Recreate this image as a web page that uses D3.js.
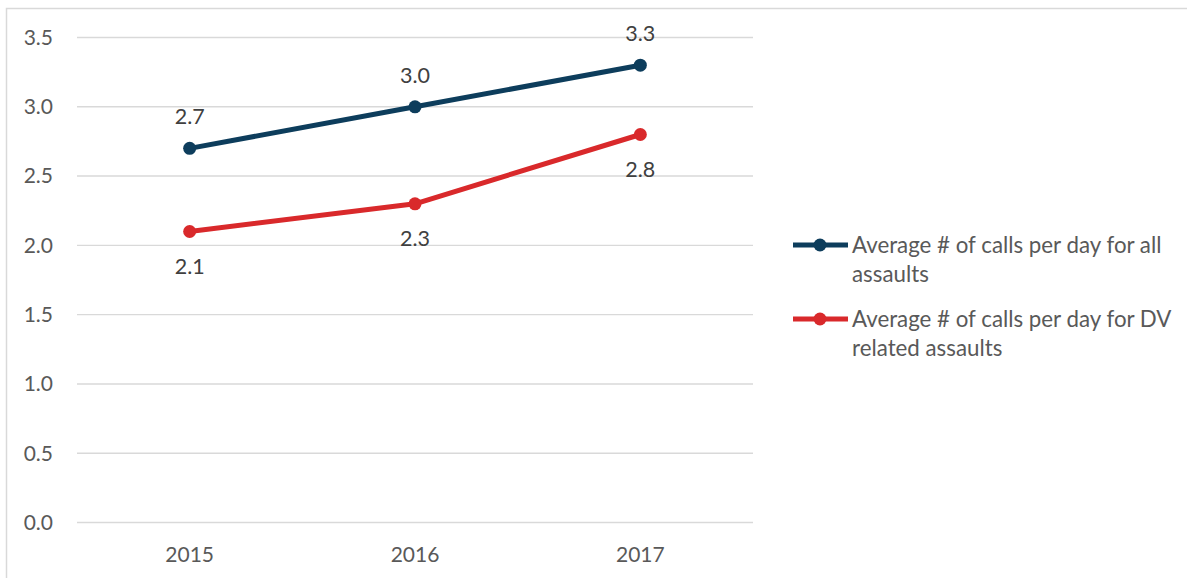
<!DOCTYPE html>
<html>
<head>
<meta charset="utf-8">
<script src="https://cdn.jsdelivr.net/npm/d3@7"></script>
<style>
  html, body { margin: 0; padding: 0; background: #ffffff; }
  svg { display: block; }
</style>
</head>
<body>
<svg id="chart" width="1187" height="578"></svg>
<script>
// Chart data
const years = ["2015", "2016", "2017"];
const allAssaults = [2.7, 3.0, 3.3];
const dvAssaults = [2.1, 2.3, 2.8];
const yTicks = [0, 0.5, 1.0, 1.5, 2.0, 2.5, 3.0, 3.5];
const seriesNames = [
  ["Average # of calls per day for all", "assaults"],
  ["Average # of calls per day for DV", "related assaults"]
];
const seriesColors = ["#0D3D5C", "#D9292B"];

const FONT = "Lato, 'Open Sans', sans-serif";
const TEXT = "#595959";

const svg = d3.select("#chart");

// Outer chart frame
svg.append("rect")
  .attr("x", 6.5).attr("y", 8.5)
  .attr("width", 1200).attr("height", 600)
  .attr("fill", "none").attr("stroke", "#D9D9D9").attr("stroke-width", 1.5);

const plot = { left: 77, right: 753, top: 37.5, bottom: 522.5 };

const x = d3.scalePoint().domain(years).range([plot.left, plot.right]).padding(0.5);
const y = d3.scaleLinear().domain([0, 3.5]).range([plot.bottom, plot.top]);

// Horizontal gridlines
svg.append("g").selectAll("line").data(yTicks).join("line")
  .attr("x1", plot.left).attr("x2", plot.right)
  .attr("y1", d => y(d)).attr("y2", d => y(d))
  .attr("stroke", "#D9D9D9").attr("stroke-width", 1.4);

// Y axis labels
svg.append("g").selectAll("text").data(yTicks).join("text")
  .attr("x", 53).attr("y", d => y(d))
  .attr("dy", "0.35em")
  .attr("text-anchor", "end")
  .attr("font-family", FONT).attr("font-size", 21).attr("fill", TEXT)
  .text(d => d3.format(".1f")(d));

// X axis labels
svg.append("g").selectAll("text").data(years).join("text")
  .attr("x", d => x(d)).attr("y", 562)
  .attr("text-anchor", "middle")
  .attr("font-family", FONT).attr("font-size", 21).attr("fill", TEXT)
  .text(d => d);

const line = d3.line().x((d, i) => x(years[i])).y(d => y(d));

const series = [
  { values: allAssaults, color: seriesColors[0], labelAbove: true },
  { values: dvAssaults, color: seriesColors[1], labelAbove: false }
];

series.forEach(s => {
  const g = svg.append("g");
  g.append("path").datum(s.values)
    .attr("d", line)
    .attr("fill", "none").attr("stroke", s.color)
    .attr("stroke-width", 5).attr("stroke-linejoin", "round");
  g.selectAll("circle").data(s.values).join("circle")
    .attr("cx", (d, i) => x(years[i])).attr("cy", d => y(d))
    .attr("r", 6.5).attr("fill", s.color);
  g.selectAll("text").data(s.values).join("text")
    .attr("x", (d, i) => x(years[i]))
    .attr("y", d => s.labelAbove ? y(d) - 24 : y(d) + 42)
    .attr("text-anchor", "middle")
    .attr("font-family", FONT).attr("font-size", 21.5).attr("fill", "#404040")
    .text(d => d3.format(".1f")(d));
});

// Legend
const legendY = [245, 319];
seriesNames.forEach((lines, i) => {
  const g = svg.append("g");
  g.append("line")
    .attr("x1", 793).attr("x2", 848)
    .attr("y1", legendY[i]).attr("y2", legendY[i])
    .attr("stroke", seriesColors[i]).attr("stroke-width", 5);
  g.append("circle")
    .attr("cx", 820).attr("cy", legendY[i]).attr("r", 6.5)
    .attr("fill", seriesColors[i]);
  const t = g.append("text")
    .attr("x", 852).attr("y", legendY[i] + 7.5)
    .attr("font-family", FONT).attr("font-size", 22.3).attr("fill", TEXT);
  lines.forEach((ln, j) => {
    t.append("tspan").attr("x", 852).attr("dy", j === 0 ? 0 : 29).text(ln);
  });
});
</script>
</body>
</html>
